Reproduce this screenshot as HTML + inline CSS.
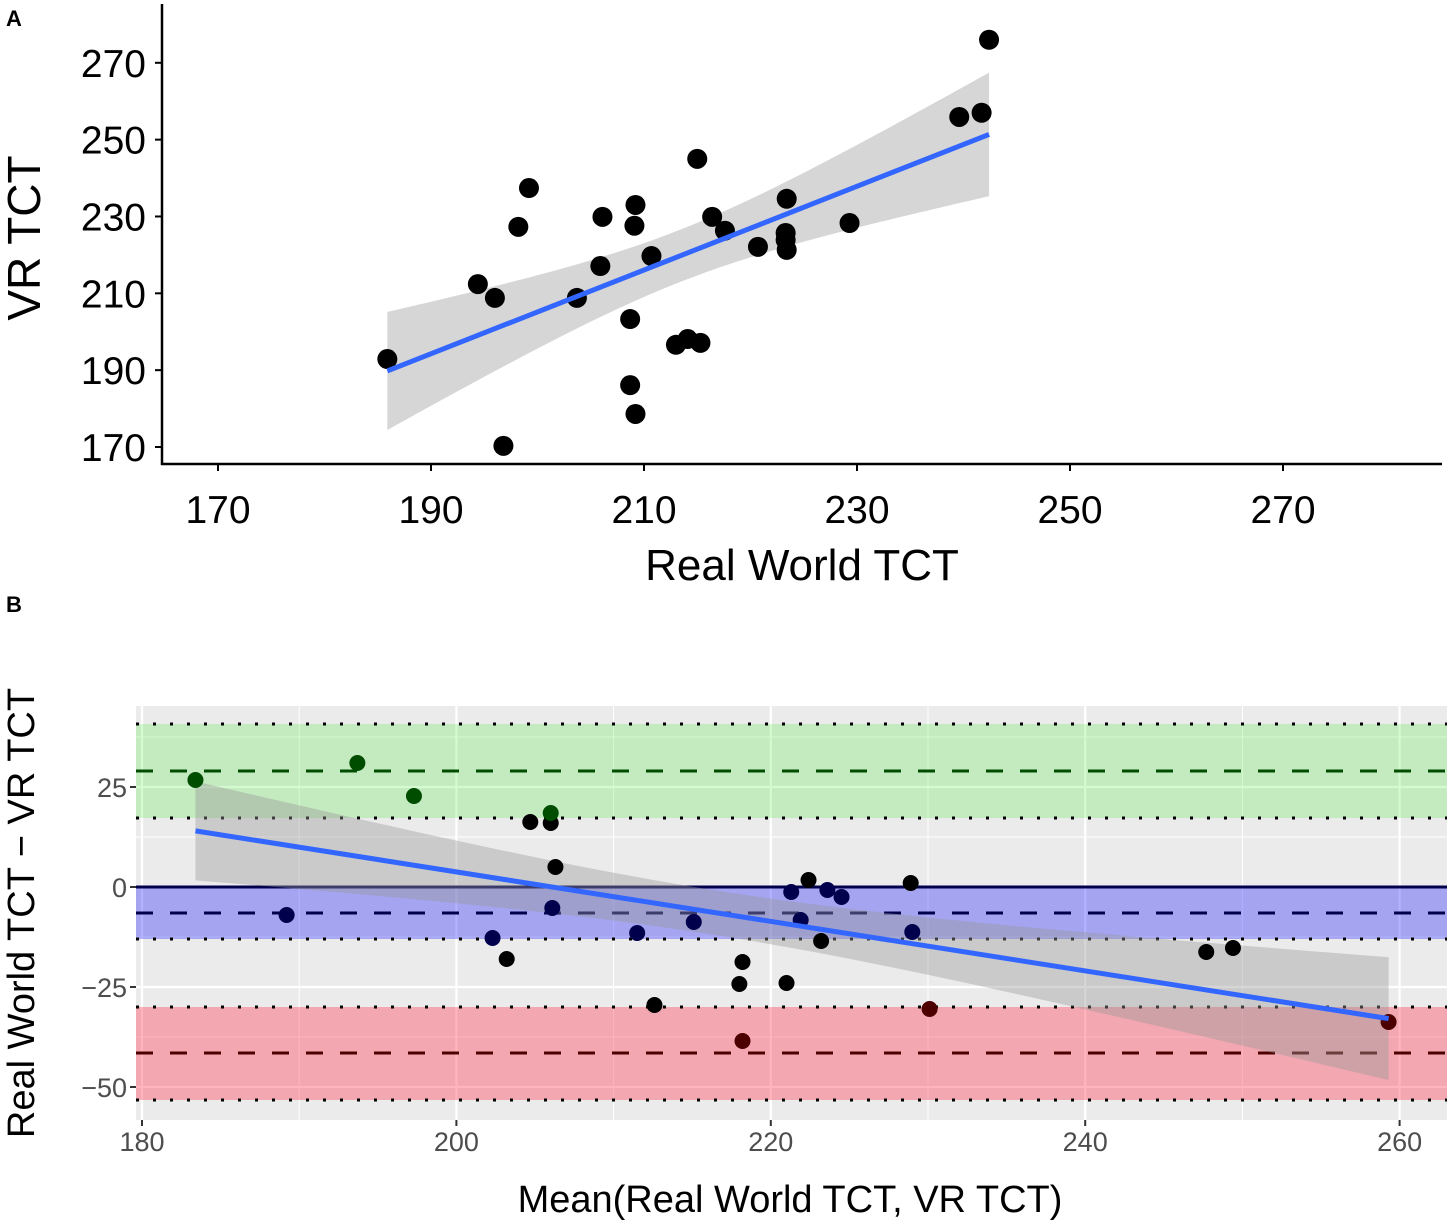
<!DOCTYPE html>
<html><head><meta charset="utf-8"><style>
body{margin:0;background:#fff}
svg{display:block;font-family:"Liberation Sans",Arial,sans-serif}
</style></head><body>
<svg id="c" width="1450" height="1228" viewBox="0 0 1450 1228"></svg>
<script>
// Panel A data
const aReal=[185.9,194.4,196.0,196.8,198.2,199.2,203.7,205.9,206.1,208.7,208.7,209.1,209.2,209.2,210.7,213.0,214.1,215.3,215.0,216.4,217.6,220.7,223.3,223.4,223.4,223.3,229.3,239.6,241.7,242.4];
const aVR=[192.9,212.4,208.8,170.3,227.3,237.4,208.8,217.1,229.9,203.3,186.1,227.6,233.0,178.6,219.7,196.6,198.1,197.1,245.0,229.9,226.3,222.1,225.7,221.3,234.6,223.9,228.3,255.9,257.0,276.0];
const aTicks=[170,190,210,230,250,270];
// Panel B data
const bMean=[183.4,189.2,193.7,197.3,202.3,203.2,204.7,206.0,206.0,206.3,206.1,211.5,212.6,215.1,218.0,218.2,218.2,221.0,221.3,222.4,221.9,223.2,223.6,224.5,228.9,229.0,230.1,247.7,249.4,259.3];
const bDiff=[26.75,-7,31,22.75,-12.75,-18,16.25,16,18.5,5,-5.25,-11.5,-29.5,-8.75,-24.25,-18.75,-38.5,-24,-1.25,1.75,-8.25,-13.5,-0.75,-2.5,1,-11.25,-30.5,-16.25,-15.25,-33.75];
const bXTicks=[180,200,220,240,260];
const bYTicks=[25,0,-25,-50];
const bBands=[[17.25,29,40.75],[-13,-6.5,0],[-53.25,-41.5,-30]];

const svg=document.getElementById('c');
const NS='http://www.w3.org/2000/svg';
function mk(t,a,p){const e=document.createElementNS(NS,t);for(const k in a)e.setAttribute(k,a[k]);(p||svg).appendChild(e);return e;}

function fit(xs,ys){const n=xs.length;const mx=xs.reduce((a,b)=>a+b)/n,my=ys.reduce((a,b)=>a+b)/n;let sxx=0,sxy=0;for(let i=0;i<n;i++){sxx+=(xs[i]-mx)**2;sxy+=(xs[i]-mx)*(ys[i]-my);}const b=sxy/sxx,a=my-b*mx;let sse=0;for(let i=0;i<n;i++)sse+=(ys[i]-a-b*xs[i])**2;const s=Math.sqrt(sse/(n-2));return {a,b,mx,sxx,s,n};}
function band(f,xs,X,Y,t){const lo=Math.min(...xs),hi=Math.max(...xs);let up=[],dn=[];for(let k=0;k<=60;k++){const x=lo+(hi-lo)*k/60;const y=f.a+f.b*x;const se=f.s*Math.sqrt(1/f.n+(x-f.mx)**2/f.sxx);up.push(X(x)+','+Y(y+t*se));dn.push(X(x)+','+Y(y-t*se));}
 return {poly:up.concat(dn.reverse()).join(' '),x1:X(lo),y1:Y(f.a+f.b*lo),x2:X(hi),y2:Y(f.a+f.b*hi)};}

// ===== Panel A =====
const AX=v=>218+(v-170)*10.65, AY=v=>447-(v-170)*3.842;
mk('text',{x:6,y:26,'font-size':22,'font-weight':'bold'}).textContent='A';
const fa=fit(aReal,aVR);const ba=band(fa,aReal,AX,AY,2.048);
let e=mk('polygon',{points:ba.poly,fill:'#999',opacity:0.4});

aReal.forEach((x,i)=>{const c=mk('circle',{cx:AX(x),cy:AY(aVR[i]),r:10,fill:'#000'});
});
e=mk('line',{x1:ba.x1,y1:ba.y1,x2:ba.x2,y2:ba.y2,stroke:'#3366ff','stroke-width':5});

mk('line',{x1:162,y1:4,x2:162,y2:465,stroke:'#000','stroke-width':2.5});
mk('line',{x1:161,y1:464,x2:1442,y2:464,stroke:'#000','stroke-width':2.5});
aTicks.forEach(v=>{mk('line',{x1:155,y1:AY(v),x2:162,y2:AY(v),stroke:'#000','stroke-width':2});
 const t=mk('text',{x:146,y:AY(v)+14,'font-size':39,'text-anchor':'end'});t.textContent=v;
 
 mk('line',{x1:AX(v),y1:464,x2:AX(v),y2:471,stroke:'#000','stroke-width':2});
 const u=mk('text',{x:AX(v),y:523,'font-size':39,'text-anchor':'middle'});u.textContent=v;
 });
e=mk('text',{x:802,y:580,'font-size':44,'text-anchor':'middle'});e.textContent='Real World TCT';

e=mk('text',{x:0,y:0,'font-size':46,'text-anchor':'middle',transform:'translate(40,238) rotate(-90)'});e.textContent='VR TCT';


// ===== Panel B =====
const BX=v=>142+(v-180)*15.72, BY=v=>887-v*4;
const L=136,R=1447,T=706,B=1120;
mk('text',{x:6,y:612,'font-size':22,'font-weight':'bold'}).textContent='B';
e=mk('rect',{x:L,y:T,width:R-L,height:B-T,fill:'#ebebeb'});

[190,210,230,250].forEach(v=>mk('line',{x1:BX(v),y1:T,x2:BX(v),y2:B,stroke:'#fff','stroke-width':1}));
[37.5,12.5,-12.5,-37.5].forEach(v=>mk('line',{x1:L,y1:BY(v),x2:R,y2:BY(v),stroke:'#fff','stroke-width':1}));
bXTicks.forEach(v=>mk('line',{x1:BX(v),y1:T,x2:BX(v),y2:B,stroke:'#fff','stroke-width':2.2}));
bYTicks.forEach(v=>mk('line',{x1:L,y1:BY(v),x2:R,y2:BY(v),stroke:'#fff','stroke-width':2.2}));
const bandFill=['rgba(60,230,40,0.22)','rgba(0,0,255,0.3)','rgba(255,40,70,0.35)'];
const bandLine=['#004d00','#00004d','#4d0000'];
const bandNames=['upper-loa-band','bias-band','lower-loa-band'];
bBands.forEach((b,i)=>{const r=mk('rect',{x:L,y:BY(b[2]),width:R-L,height:BY(b[0])-BY(b[2]),fill:bandFill[i]});
 
 mk('line',{x1:L,y1:BY(b[1]),x2:R,y2:BY(b[1]),stroke:bandLine[i],'stroke-width':3,'stroke-dasharray':'17,17'});
 mk('line',{x1:L,y1:BY(b[0]),x2:R,y2:BY(b[0]),stroke:'#000','stroke-width':3,'stroke-dasharray':'3,14'});
 if(i!==1)mk('line',{x1:L,y1:BY(b[2]),x2:R,y2:BY(b[2]),stroke:'#000','stroke-width':3,'stroke-dasharray':'3,14'});});
mk('line',{x1:L,y1:BY(0),x2:R,y2:BY(0),stroke:'#00004d','stroke-width':3});
const fb=fit(bMean,bDiff);const bb=band(fb,bMean,BX,BY,2.048);
e=mk('polygon',{points:bb.poly,fill:'#999',opacity:0.4});

bMean.forEach((x,i)=>{const d=bDiff[i];let col='#000';
 if(d>=bBands[0][0]&&d<=bBands[0][2])col='#004d00';else if(d>=bBands[1][0]&&d<=bBands[1][2])col='#00004d';else if(d>=bBands[2][0]&&d<=bBands[2][2])col='#4d0000';
 const c=mk('circle',{cx:BX(x),cy:BY(d),r:8,fill:col});
 });
e=mk('line',{x1:bb.x1,y1:bb.y1,x2:bb.x2,y2:bb.y2,stroke:'#3366ff','stroke-width':5});

bXTicks.forEach(v=>{mk('line',{x1:BX(v),y1:B,x2:BX(v),y2:B+6,stroke:'#333','stroke-width':2});
 const t=mk('text',{x:BX(v),y:B+31,'font-size':27,fill:'#4d4d4d','text-anchor':'middle'});t.textContent=v;
 });
bYTicks.forEach(v=>{mk('line',{x1:L-6,y1:BY(v),x2:L,y2:BY(v),stroke:'#333','stroke-width':2});
 const t=mk('text',{x:L-9,y:BY(v)+10,'font-size':27,fill:'#4d4d4d','text-anchor':'end'});t.textContent=v<0?'\u2212'+(-v):v;
 });
e=mk('text',{x:790,y:1212,'font-size':38,'text-anchor':'middle'});e.textContent='Mean(Real World TCT, VR TCT)';

e=mk('text',{x:0,y:0,'font-size':38,'text-anchor':'middle',transform:'translate(34,913) rotate(-90)'});e.textContent='Real World TCT \u2212 VR TCT';

</script>
</body></html>
